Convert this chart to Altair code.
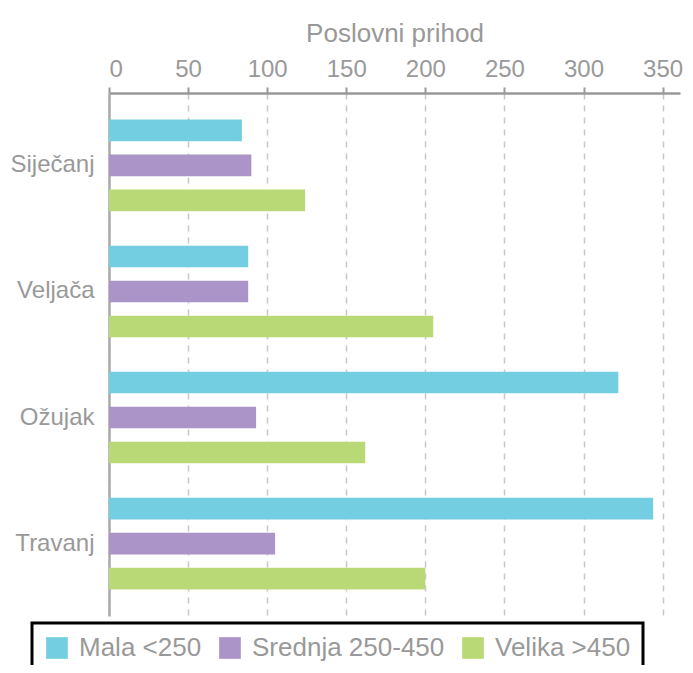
import altair as alt
import pandas as pd

months = ["Siječanj", "Veljača", "Ožujak", "Travanj"]
series = ["Mala <250", "Srednja 250-450", "Velika >450"]
mala = [84, 88, 322, 344]
srednja = [90, 88, 93, 105]
velika = [124, 205, 162, 200]
colors = ["#72CEE0", "#AA94C8", "#B9D976"]
tick_values = [0, 50, 100, 150, 200, 250, 300, 350]

rows = []
for i, m in enumerate(months):
    for s, vals in zip(series, [mala, srednja, velika]):
        rows.append({"month": m, "series": s, "value": vals[i]})
df = pd.DataFrame(rows)

FONT = "Liberation Sans"
GRAY = "#999999"

chart = alt.Chart(df).mark_bar().encode(
    y=alt.Y(
        "month:N",
        sort=months,
        scale=alt.Scale(paddingInner=0, paddingOuter=0.075),
        axis=alt.Axis(
            title=None,
            ticks=False,
            labelFontSize=24,
            labelColor=GRAY,
            labelFont=FONT,
            labelPadding=15,
            domainColor="#aaaaaa",
            domainWidth=2.5,
            grid=False,
        ),
    ),
    yOffset=alt.YOffset(
        "series:N",
        sort=series,
        scale=alt.Scale(paddingInner=0.38, paddingOuter=0.49),
    ),
    x=alt.X(
        "value:Q",
        scale=alt.Scale(domain=[0, 361], nice=False),
        axis=alt.Axis(
            orient="top",
            title="Poslovni prihod",
            titleFontSize=26,
            titleFontWeight="normal",
            titleColor=GRAY,
            titleFont=FONT,
            titlePadding=11,
            values=tick_values,
            labelFontSize=24,
            labelColor=GRAY,
            labelFont=FONT,
            labelPadding=6,
            tickColor=GRAY,
            tickSize=6,
            tickWidth=2,
            domainColor=GRAY,
            domainWidth=2.5,
            grid=True,
            gridDash=[6, 6],
            gridColor="#c8c8c8",
            gridWidth=1.5,
        ),
    ),
    color=alt.Color(
        "series:N",
        sort=series,
        scale=alt.Scale(domain=series, range=colors),
        legend=alt.Legend(
            title=None,
            orient="none",
            legendX=-77,
            legendY=530,
            direction="horizontal",
            symbolType="square",
            symbolSize=470,
            symbolStrokeWidth=0,
            symbolOpacity=1,
            labelFontSize=26,
            labelColor=GRAY,
            labelFont=FONT,
            labelOffset=9,
            labelLimit=400,
            columnPadding=15,
            strokeColor="black",
            padding=12,
        ),
    ),
).properties(
    width=571,
    height=523,
    padding={"left": 101, "top": 85, "right": 5, "bottom": 49},
    autosize=alt.AutoSizeParams(type="none"),
).configure_view(stroke=None).configure_legend(strokeWidth=3)

chart.save("out.html", embed_options={"renderer": "svg", "actions": False})
